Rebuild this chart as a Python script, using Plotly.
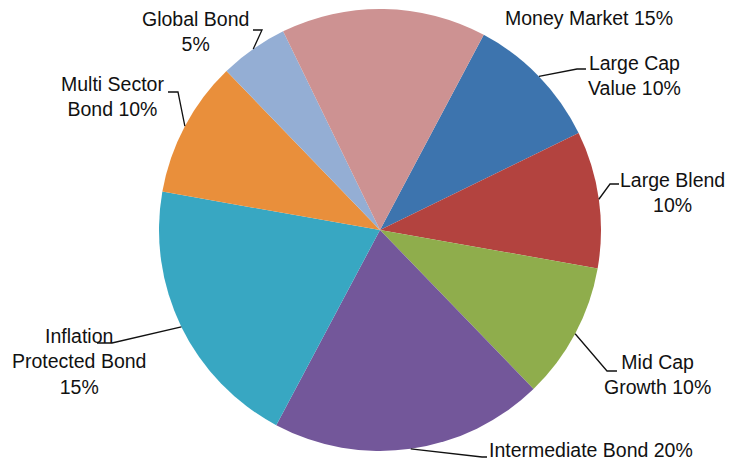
import math
import plotly.graph_objects as go

# ---- data ----
categories = ["Large Cap Value", "Large Blend", "Mid Cap Growth", "Intermediate Bond",
              "Inflation Protected Bond", "Multi Sector Bond", "Global Bond", "Money Market"]
slice_values = [10, 10, 10, 20, 20, 10, 5, 15]
label_texts = ["Large Cap<br>Value 10%", "Large Blend<br>10%", "Mid Cap<br>Growth 10%",
               "Intermediate Bond 20%", "Inflation<br>Protected Bond<br>15%",
               "Multi Sector<br>Bond 10%", "Global Bond<br>5%", "Money Market 15%"]
colors = ["#3d74ae", "#b3433f", "#8fad4c", "#73579a", "#38a7c2", "#e98f3b", "#94aed4", "#cd9292"]

# ---- layout / style ----
W, H = 744, 462
CX, CY, R = 380, 230, 221
ROTATION = 28
# label centre positions (px) and leader elbows (px): [elbow, end]
label_pos = [(634, 75), (672, 192), (657, 374), (591, 450), (79, 361), (112, 96), (195, 32), (589, 18)]
leader = [[(577, 69), (586, 69)], [(610, 184), (619, 184)], [(607, 371), (617, 371)],
          [(482, 457), (487, 457)], [(112, 343), (97, 343)], [(178, 92), (168, 92)],
          [(262, 30), (253, 30)], None]

def px(x):
    return x / W

def py(y):
    return 1 - y / H

fig = go.Figure(go.Pie(
    labels=categories,
    values=slice_values,
    sort=False,
    direction="clockwise",
    rotation=ROTATION,
    marker=dict(colors=colors, line=dict(width=0)),
    textinfo="none",
    hoverinfo="label+percent",
    showlegend=False,
    domain=dict(x=[px(CX - R), px(CX + R)], y=[py(CY + R), py(CY - R)]),
))

total = sum(slice_values)
cum = 0
annotations = []
shapes = []
for i, v in enumerate(slice_values):
    mid = math.radians(ROTATION + 360 * (cum + v / 2) / total)
    cum += v
    ex, ey = CX + R * math.sin(mid), CY - R * math.cos(mid)
    if leader[i] is not None:
        pts = [(ex, ey)] + leader[i]
        path = "M " + " L ".join(f"{px(a):.5f},{py(b):.5f}" for a, b in pts)
        shapes.append(dict(type="path", xref="paper", yref="paper", path=path,
                           line=dict(color="#111111", width=1.3)))
    lx, ly = label_pos[i]
    annotations.append(dict(x=px(lx), y=py(ly), xref="paper", yref="paper",
                            text=label_texts[i], showarrow=False, align="center",
                            xanchor="center", yanchor="middle",
                            font=dict(family="Liberation Sans, Arial, sans-serif",
                                      size=19.5, color="#111111")))

fig.update_layout(
    width=W, height=H,
    margin=dict(l=0, r=0, t=0, b=0),
    paper_bgcolor="white", plot_bgcolor="white",
    annotations=annotations, shapes=shapes,
)

fig.write_html("out.html")
